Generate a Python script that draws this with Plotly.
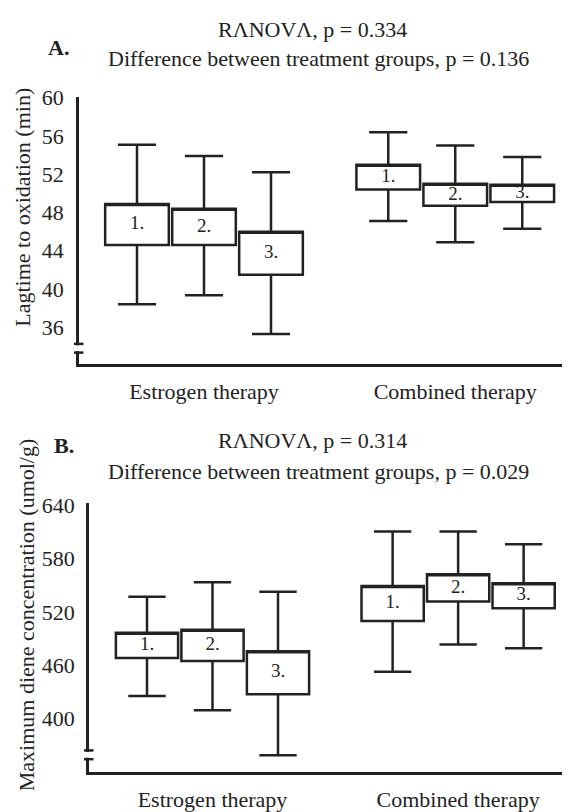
import plotly.graph_objects as go

# ---------------- data ----------------
group_labels = ["Estrogen therapy", "Combined therapy"]
box_labels = ["1.", "2.", "3.", "1.", "2.", "3."]
positions = [0, 1, 2, 3.75, 4.75, 5.75]
group_tick_pos = [1, 4.75]

# Panel A: Lagtime to oxidation (min)
a_q1 = [44.6, 44.6, 41.5, 50.4, 48.7, 49.1]
a_q3 = [48.9, 48.4, 46.0, 53.0, 51.0, 50.9]
a_low = [38.4, 39.35, 35.3, 47.1, 44.9, 46.3]
a_high = [55.1, 53.9, 52.2, 56.4, 55.0, 53.8]
a_ticks = [36, 40, 44, 48, 52, 56, 60]

# Panel B: Maximum diene concentration (umol/g)
b_q1 = [468.0, 464.7, 427.1, 509.6, 531.5, 524.0]
b_q3 = [496.4, 499.7, 475.6, 549.0, 562.2, 552.3]
b_low = [425.2, 409.1, 358.4, 452.6, 483.3, 479.0]
b_high = [537.0, 553.4, 542.5, 610.4, 610.4, 596.2]
b_ticks = [400, 460, 520, 580, 640]

# page has an 8px body margin: the figure starts at (8, 8) in the window
OFF = 8
W, H = 570 - OFF, 812 - OFF
FONT = "Liberation Serif"
INK = "#222222"


def px_x(p):
    return (p - OFF) / W


def px_y(p):
    return 1 - (p - OFF) / H


fig = go.Figure()


def add_panel(q1, q3, low, high, xa, ya):
    fig.add_trace(go.Box(
        x=positions, q1=q1, median=q3, q3=q3,
        lowerfence=low, upperfence=high,
        width=0.95, whiskerwidth=0.6,
        fillcolor="white", line=dict(color=INK, width=2.5),
        boxpoints=False, hoverinfo="skip", showlegend=False,
        xaxis=xa, yaxis=ya,
    ))
    mids = [(a + b) / 2 for a, b in zip(q1, q3)]
    fig.add_trace(go.Scatter(
        x=positions, y=mids, mode="text", text=box_labels,
        textfont=dict(family=FONT, size=19, color=INK),
        hoverinfo="skip", showlegend=False, xaxis=xa, yaxis=ya,
    ))


add_panel(a_q1, a_q3, a_low, a_high, "x", "y")
add_panel(b_q1, b_q3, b_low, b_high, "x2", "y2")

axis_common = dict(showgrid=False, zeroline=False, showline=True,
                   linecolor=INK, linewidth=2.5, ticks="",
                   tickfont=dict(family=FONT, size=22, color=INK))

# Panel A axes
a_px_per = 9.83
a_top = 60 + (89 - 88) / a_px_per
a_bot = 60 - (363 - 89) / a_px_per
fig.update_layout(
    xaxis=dict(domain=[px_x(79), 1], anchor="y", range=[-58 / 67, 433 / 67],
               tickvals=group_tick_pos, ticktext=group_labels,
               ticklabelstandoff=6, **axis_common),
    yaxis=dict(domain=[px_y(363), px_y(88)], anchor="x", range=[a_bot, a_top],
               tickvals=a_ticks, ticklabelstandoff=8, **axis_common),
)

# Panel B axes
b_px_per = 0.9125
b_top = 640 + (508 - 506) / b_px_per
b_bot = 640 - (781.7 - 508) / b_px_per
fig.update_layout(
    xaxis2=dict(domain=[px_x(89), 1], anchor="y2", range=[-58 / 65.5, 423 / 65.5],
                tickvals=group_tick_pos, ticktext=group_labels,
                ticklabelstandoff=6, **axis_common),
    yaxis2=dict(domain=[px_y(781.7), px_y(506)], anchor="x2", range=[b_bot, b_top],
                tickvals=b_ticks, ticklabelstandoff=7, **axis_common),
)

# axis breaks (decoration)
shapes = []
for ax_x, t1, t2 in [(79, 342, 351), (89, 760, 769)]:
    shapes.append(dict(type="rect", xref="paper", yref="paper",
                       x0=px_x(ax_x - 3), x1=px_x(ax_x + 3),
                       y0=px_y(t2 - 1.5), y1=px_y(t1 + 1.5),
                       fillcolor="white", line=dict(width=0), layer="above"))
    for t in (t1, t2):
        shapes.append(dict(type="line", xref="paper", yref="paper",
                           x0=px_x(ax_x - 5), x1=px_x(ax_x + 4.5),
                           y0=px_y(t), y1=px_y(t),
                           line=dict(color=INK, width=2.5), layer="above"))

annotations = []


def ann(text, x, y, size=22, bold=False, angle=0):
    annotations.append(dict(
        text=f"<b>{text}</b>" if bold else text,
        x=px_x(x), y=px_y(y), xref="paper", yref="paper",
        xanchor="center", yanchor="middle", showarrow=False, textangle=angle,
        font=dict(family=FONT, size=size, color=INK)))


ann("RΛNOVΛ, p = 0.334", 312, 19)
ann("Difference between treatment groups, p = 0.136", 318, 49)
ann("A.", 58, 37, bold=True)
ann("Lagtime to oxidation (min)", 23, 202, angle=-90)

ann("RΛNOVΛ, p = 0.314", 312, 441)
ann("Difference between treatment groups, p = 0.029", 318, 473)
ann("B.", 64, 446, bold=True)
ann("Maximum diene concentration (umol/g)", 26, 621, angle=-90)

fig.update_layout(
    width=W, height=H, margin=dict(l=0, r=0, t=0, b=0),
    paper_bgcolor="white", plot_bgcolor="white",
    shapes=shapes, annotations=annotations, showlegend=False,
)

fig.write_html("out.html")
